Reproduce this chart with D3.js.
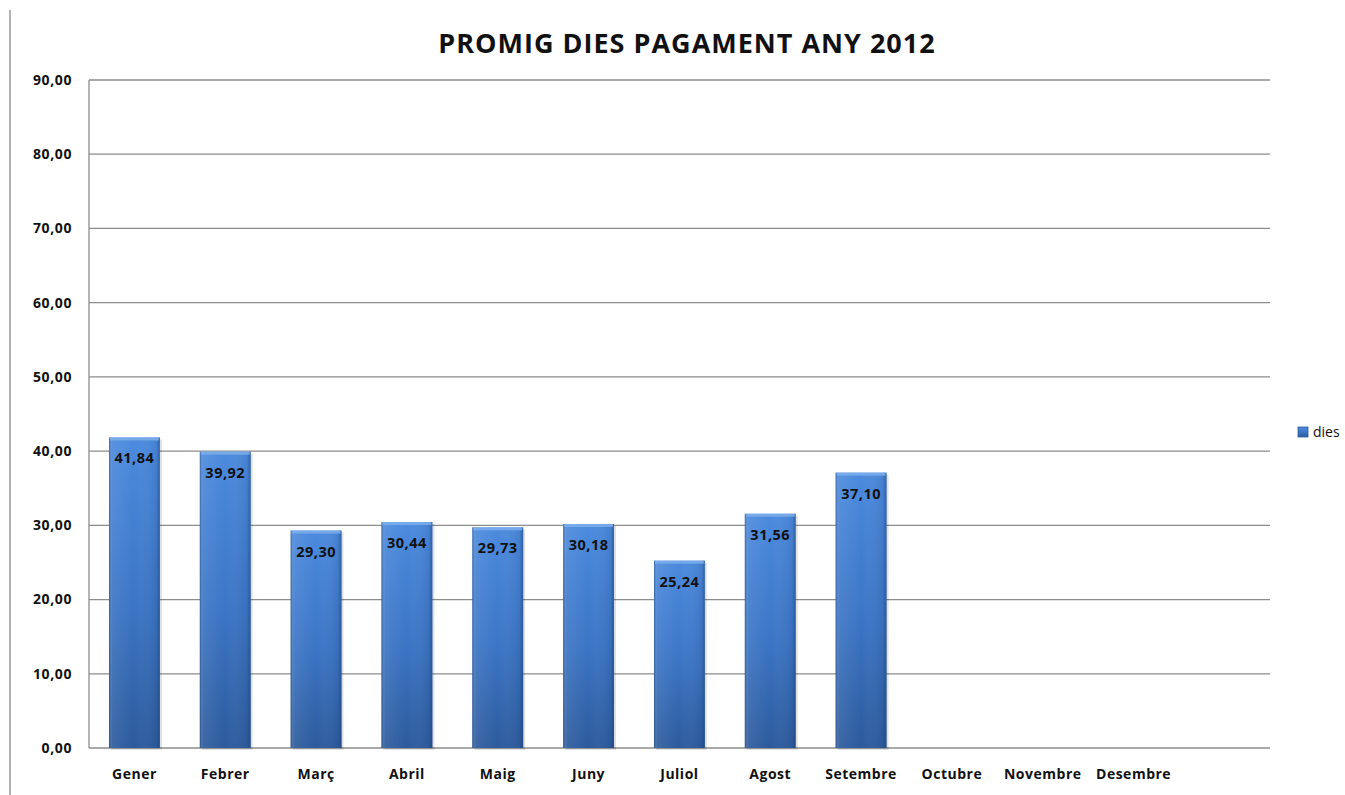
<!DOCTYPE html>
<html lang="ca">
<head>
  <meta charset="UTF-8">
  <title>Promig dies pagament any 2012</title>
  <script src="https://d3js.org/d3.v7.min.js"></script>
  <style>
    body { margin: 0; background: #fff; }
    text { font-family: "Open Sans", "DejaVu Sans", sans-serif; font-weight: bold; fill: #111; }
    .grid line { stroke: #8c8c8c; stroke-width: 1.3px; }
  </style>
</head>
<body>
  <svg width="1345" height="795"></svg>
  <script>
    const months = ["Gener", "Febrer", "Març", "Abril", "Maig", "Juny", "Juliol", "Agost", "Setembre", "Octubre", "Novembre", "Desembre"];
    const dies = [41.84, 39.92, 29.30, 30.44, 29.73, 30.18, 25.24, 31.56, 37.10, null, null, null];
    const yTicks = [0, 10, 20, 30, 40, 50, 60, 70, 80, 90];

    const svg = d3.select("svg");
    const plotL = 89, plotR = 1270, plotT = 80, plotB = 748;

    const x = d3.scaleBand().domain(months).range([plotL, 1179]).paddingInner(0.44).paddingOuter(0.22);
    const y = d3.scaleLinear().domain([0, 90]).range([plotB, plotT]);
    const fmt = v => d3.format(".2f")(v).replace(".", ",");

    const defs = svg.append("defs");
    const g1 = defs.append("linearGradient").attr("id", "barV").attr("x1", 0).attr("y1", 0).attr("x2", 0).attr("y2", 1);
    g1.append("stop").attr("offset", "0%").attr("stop-color", "#4b8ade");
    g1.append("stop").attr("offset", "55%").attr("stop-color", "#3a74c4");
    g1.append("stop").attr("offset", "100%").attr("stop-color", "#2c5a9c");
    const g2 = defs.append("linearGradient").attr("id", "barH").attr("x1", 0).attr("y1", 0).attr("x2", 1).attr("y2", 0);
    g2.append("stop").attr("offset", "0%").attr("stop-color", "#1d3f73").attr("stop-opacity", 0.5);
    g2.append("stop").attr("offset", "7%").attr("stop-color", "#ffffff").attr("stop-opacity", 0.08);
    g2.append("stop").attr("offset", "50%").attr("stop-color", "#ffffff").attr("stop-opacity", 0);
    g2.append("stop").attr("offset", "93%").attr("stop-color", "#1d3f73").attr("stop-opacity", 0.12);
    g2.append("stop").attr("offset", "100%").attr("stop-color", "#1d3f73").attr("stop-opacity", 0.55);

    // page border line on the left
    svg.append("line").attr("x1", 10).attr("x2", 10).attr("y1", 10).attr("y2", 795)
      .attr("stroke", "#999").attr("stroke-width", 1.5);

    svg.append("text").attr("x", 687).attr("y", 53).attr("text-anchor", "middle")
      .style("font-size", "27px").style("letter-spacing", "1px").text("PROMIG DIES PAGAMENT ANY 2012");

    // grid
    svg.append("g").attr("class", "grid")
      .selectAll("line").data(yTicks).join("line")
      .attr("x1", plotL).attr("x2", plotR)
      .attr("y1", d => y(d)).attr("y2", d => y(d));
    svg.append("line").attr("x1", plotL).attr("x2", plotL).attr("y1", plotT).attr("y2", plotB)
      .attr("stroke", "#8c8c8c").attr("stroke-width", 1.3);

    svg.append("g").selectAll("text").data(yTicks).join("text")
      .attr("x", 72).attr("y", d => y(d)).attr("dy", "0.35em").attr("text-anchor", "end")
      .style("font-size", "14px").style("letter-spacing", "0.6px").text(fmt);

    svg.append("g").selectAll("text").data(months).join("text")
      .attr("x", d => x(d) + x.bandwidth() / 2).attr("y", 779).attr("text-anchor", "middle")
      .style("font-size", "14px").style("letter-spacing", "0.5px").text(d => d);

    const data = months.map((m, i) => ({ m, v: dies[i] })).filter(d => d.v != null);

    const bars = svg.append("g").selectAll("g").data(data).join("g");
    bars.append("rect")
      .attr("x", d => x(d.m) + 2).attr("y", d => y(d.v) + 2)
      .attr("width", x.bandwidth()).attr("height", d => y(0) - y(d.v))
      .attr("fill", "#000").attr("opacity", 0.12);
    bars.append("rect")
      .attr("x", d => x(d.m)).attr("y", d => y(d.v))
      .attr("width", x.bandwidth()).attr("height", d => y(0) - y(d.v))
      .attr("fill", "url(#barV)");
    bars.append("rect")
      .attr("x", d => x(d.m)).attr("y", d => y(d.v))
      .attr("width", x.bandwidth()).attr("height", d => y(0) - y(d.v))
      .attr("fill", "url(#barH)");
    bars.append("rect")
      .attr("x", d => x(d.m) + 1).attr("y", d => y(d.v))
      .attr("width", x.bandwidth() - 2).attr("height", 3)
      .attr("fill", "#7fb0ee").attr("opacity", 0.8);

    bars.append("text")
      .attr("x", d => x(d.m) + x.bandwidth() / 2).attr("y", d => y(d.v) + 26)
      .attr("text-anchor", "middle").style("font-size", "14.5px").style("letter-spacing", "0.5px")
      .text(d => fmt(d.v));

    // legend
    const lg = svg.append("g").attr("transform", "translate(1298,427)");
    lg.append("rect").attr("width", 10).attr("height", 10).attr("fill", "url(#barV)")
      .attr("stroke", "#2d5c9f").attr("stroke-width", 0.8);
    lg.append("text").attr("x", 15).attr("y", 5).attr("dy", "0.35em")
      .style("font-size", "14px").style("font-weight", "normal").text("dies");
  </script>
</body>
</html>
